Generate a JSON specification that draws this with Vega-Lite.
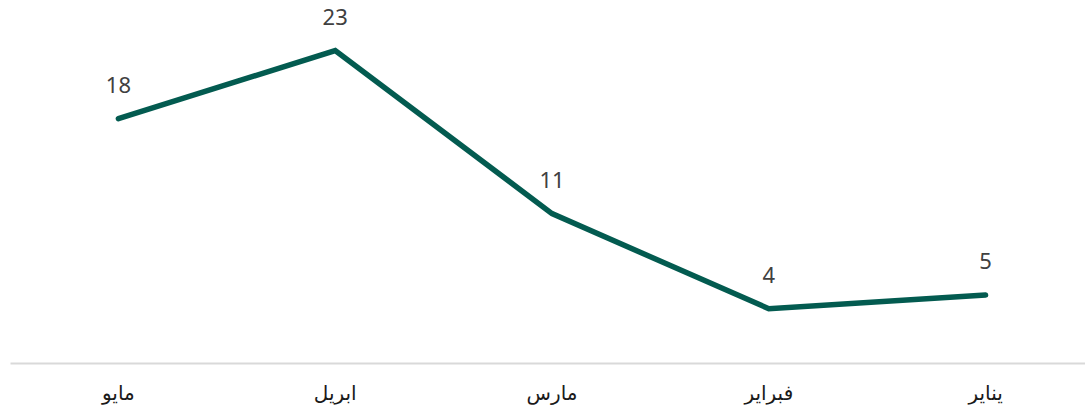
{
  "$schema": "https://vega.github.io/schema/vega-lite/v6.json",
  "width": 1084,
  "height": 363,
  "autosize": {"type": "none"},
  "padding": {"left": 10, "top": 0, "right": 0, "bottom": 51},
  "background": "white",
  "config": {"view": {"stroke": null}},
  "data": {
    "values": [
      {"month": "مايو", "value": 18},
      {"month": "ابريل", "value": 23},
      {"month": "مارس", "value": 11},
      {"month": "فبراير", "value": 4},
      {"month": "يناير", "value": 5}
    ]
  },
  "encoding": {
    "x": {
      "field": "month",
      "type": "nominal",
      "sort": ["مايو", "ابريل", "مارس", "فبراير", "يناير"],
      "scale": {"type": "band", "paddingInner": 0, "paddingOuter": 0},
      "axis": {
        "title": null,
        "labelAngle": 0,
        "ticks": false,
        "domainColor": "#d9d9d9",
        "domainWidth": 2,
        "labelFont": "DejaVu Sans",
        "labelFontSize": 20,
        "labelColor": "#1a1a1a",
        "labelPadding": 20
      }
    },
    "y": {
      "field": "value",
      "type": "quantitative",
      "scale": {"domain": [0, 26.73], "nice": false, "zero": true},
      "axis": null
    }
  },
  "layer": [
    {
      "mark": {"type": "line", "color": "#035b50", "strokeWidth": 5.5, "strokeCap": "round", "strokeJoin": "miter"}
    },
    {
      "mark": {"type": "text", "baseline": "bottom", "dy": -21, "font": "Noto Sans", "fontSize": 22, "color": "#404040"},
      "encoding": {"text": {"field": "value", "type": "quantitative"}}
    }
  ]
}
